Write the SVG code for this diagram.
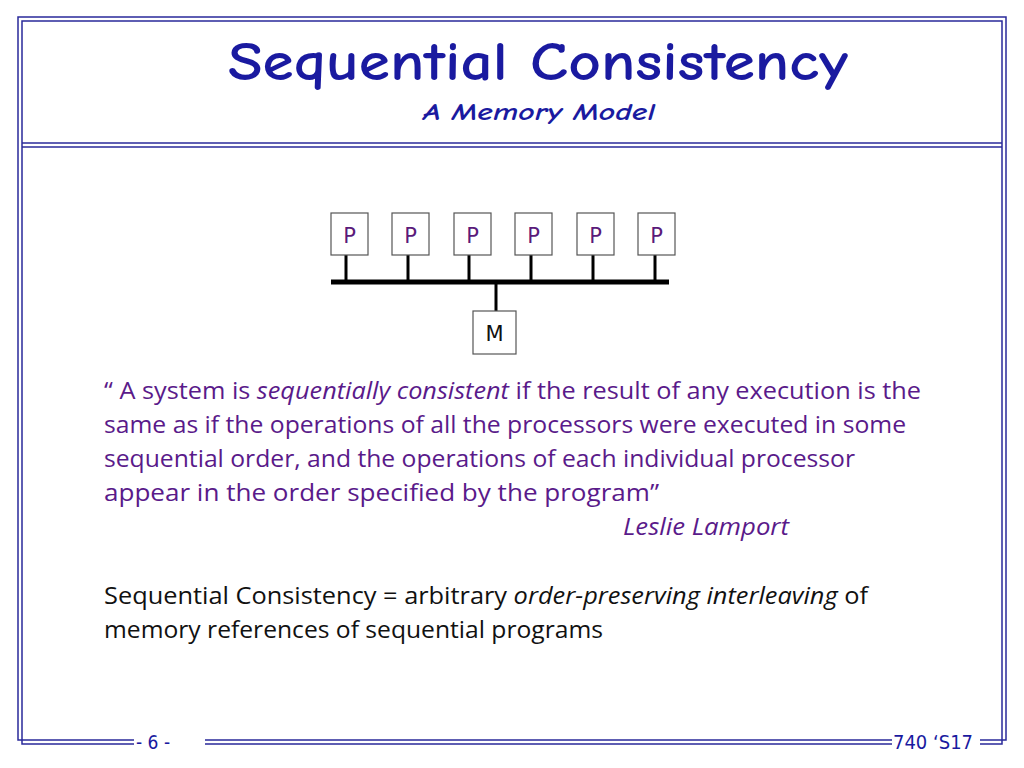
<svg xmlns="http://www.w3.org/2000/svg" width="1024" height="768" viewBox="0 0 1024 768">
<style>
.fr{stroke:#2a2a9a;fill:none}
.box{fill:#fff;stroke:#555;stroke-width:1.2}
.pt{font-family:"DejaVu Sans",sans-serif;font-size:21px;fill:#5a1a7a;text-anchor:middle}
.body{font-family:"Open Sans","Noto Sans",sans-serif;font-size:23px}
.q{fill:#5a1a8a}
.title{font-family:"Comic Neue","DejaVu Sans",sans-serif;fill:#1a1aa0;font-weight:bold}
.ft{font-family:"DejaVu Sans Condensed","DejaVu Sans",sans-serif;font-size:19px;fill:#1a1aa0}
</style>
<rect width="1024" height="768" fill="#fff"/>
<g id="frame">
<path class="fr" stroke-width="1.5" d="M134,740 H18 V17 H1006 V740 H980 M205,740 H892"/>
<path class="fr" stroke-width="1.5" d="M134,744 H22 V21 H1002 V744 H980 M205,744 H892"/>
<line class="fr" stroke-width="1.5" x1="22" y1="143" x2="1002" y2="143"/>
<line class="fr" stroke-width="1.5" x1="22" y1="147" x2="1002" y2="147"/>
</g>
<text class="title" x="228" y="80" font-size="54" textLength="620" lengthAdjust="spacingAndGlyphs">Sequential Consistency</text>
<text class="title" x="423" y="120" font-size="25" font-style="italic" textLength="232" lengthAdjust="spacingAndGlyphs">A Memory Model</text>
<g id="connectors" stroke="#000">
<line x1="331" y1="282" x2="669" y2="282" stroke-width="5"/>
<g stroke-width="3">
<line x1="346" y1="255" x2="346" y2="282"/><line x1="408" y1="255" x2="408" y2="282"/>
<line x1="469" y1="255" x2="469" y2="282"/><line x1="531" y1="255" x2="531" y2="282"/>
<line x1="593" y1="255" x2="593" y2="282"/><line x1="655" y1="255" x2="655" y2="282"/>
<line x1="496" y1="282" x2="496" y2="311"/>
</g>
</g>
<g id="p1"><rect class="box" x="331" y="213" width="37" height="42"/><text class="pt" x="349.5" y="243">P</text></g>
<g id="p2"><rect class="box" x="392" y="213" width="37" height="42"/><text class="pt" x="410.5" y="243">P</text></g>
<g id="p3"><rect class="box" x="454" y="213" width="37" height="42"/><text class="pt" x="472.5" y="243">P</text></g>
<g id="p4"><rect class="box" x="515" y="213" width="37" height="42"/><text class="pt" x="533.5" y="243">P</text></g>
<g id="p5"><rect class="box" x="577" y="213" width="37" height="42"/><text class="pt" x="595.5" y="243">P</text></g>
<g id="p6"><rect class="box" x="638" y="213" width="37" height="42"/><text class="pt" x="656.5" y="243">P</text></g>
<g id="m"><rect class="box" x="473" y="311" width="43" height="43"/><text class="pt" x="494.5" y="341" style="fill:#111">M</text></g>
<g class="body q">
<text x="104" y="399" textLength="817" lengthAdjust="spacingAndGlyphs">“ A system is <tspan font-style="italic">sequentially consistent</tspan> if the result of any execution is the</text>
<text x="104" y="433" textLength="802" lengthAdjust="spacingAndGlyphs">same as if the operations of all the processors were executed in some</text>
<text x="104" y="467" textLength="751" lengthAdjust="spacingAndGlyphs">sequential order, and the operations of each individual processor</text>
<text x="104" y="501" textLength="555" lengthAdjust="spacingAndGlyphs">appear in the order specified by the program”</text>
<text x="623" y="535" font-style="italic" textLength="166" lengthAdjust="spacingAndGlyphs">Leslie Lamport</text>
</g>
<g class="body" fill="#111">
<text x="104" y="604" textLength="764" lengthAdjust="spacingAndGlyphs">Sequential Consistency = arbitrary <tspan font-style="italic">order-preserving interleaving</tspan> of</text>
<text x="104" y="638" textLength="499" lengthAdjust="spacingAndGlyphs">memory references of sequential programs</text>
</g>
<text class="ft" x="136" y="749">- 6 -</text>
<text class="ft" x="893" y="749" textLength="80" lengthAdjust="spacingAndGlyphs">740 ‘S17</text>
</svg>
